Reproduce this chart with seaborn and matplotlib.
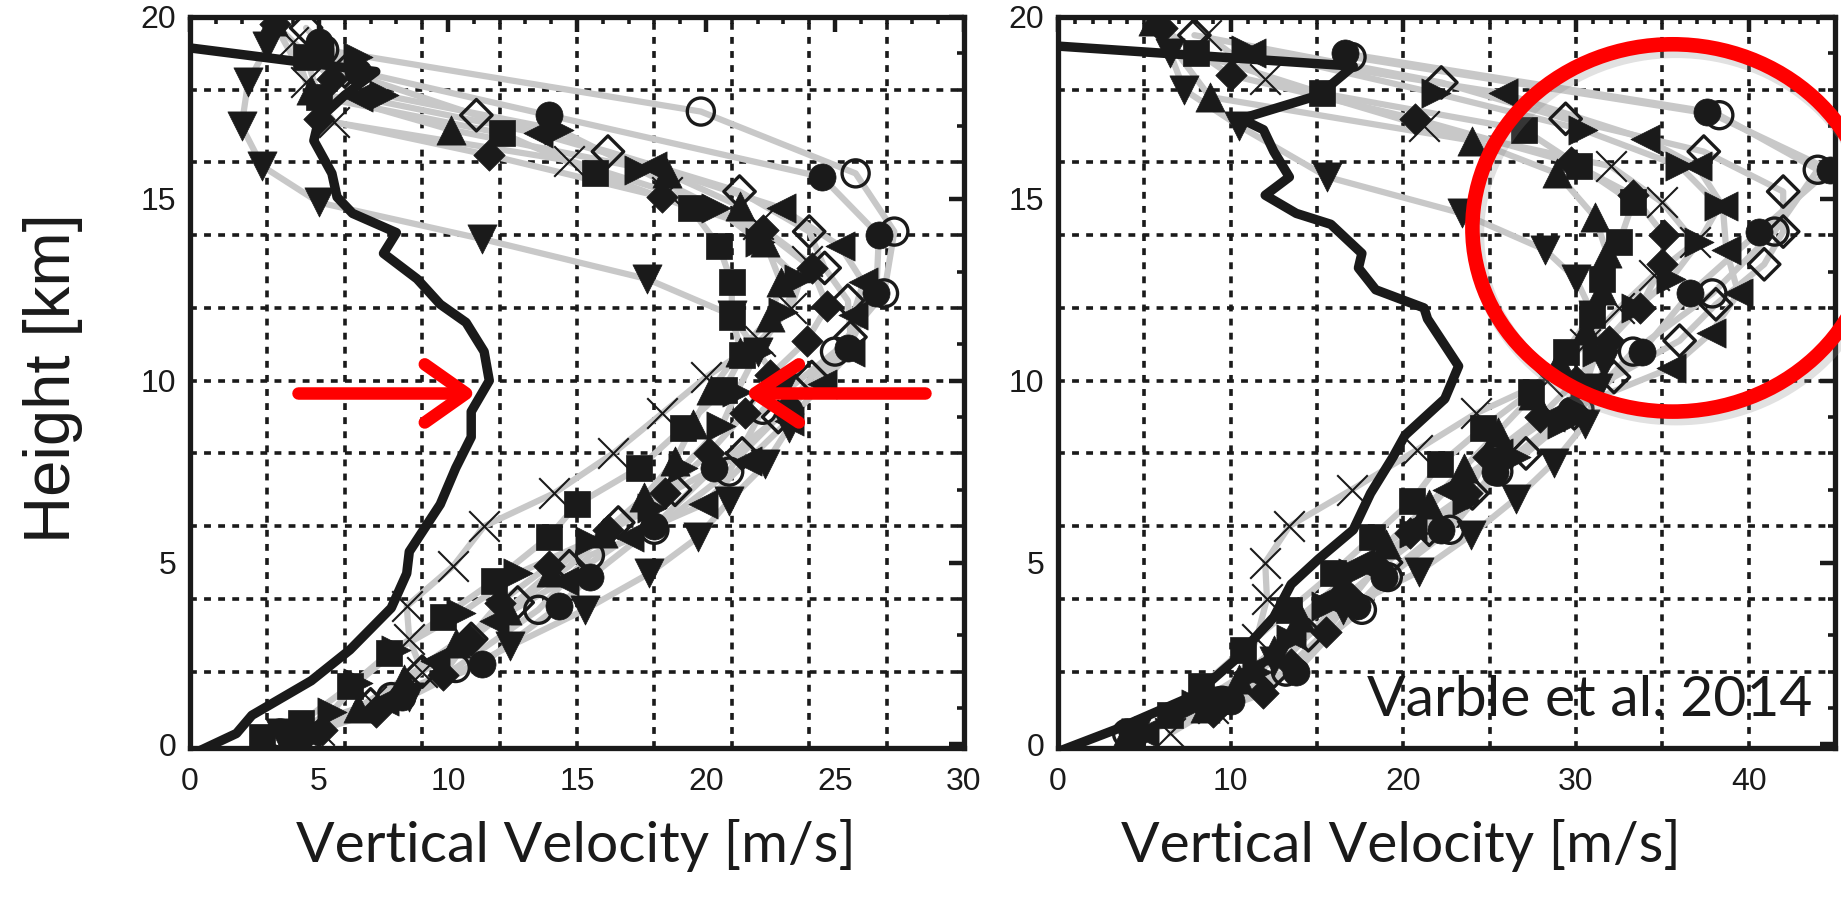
import numpy as np
import pandas as pd
import matplotlib
matplotlib.use("Agg")
import matplotlib.pyplot as plt
import seaborn as sns
from matplotlib.patches import Ellipse
from matplotlib.ticker import MultipleLocator

sns.set_theme(style="white", rc={"text.color": "black", "axes.labelcolor": "black",
                                 "xtick.color": "black", "ytick.color": "black",
                                 "axes.edgecolor": "black"})
plt.rcParams["font.family"] = ["Liberation Sans", "DejaVu Sans"]

# ---------------- data: left panel ----------------
L_OBS_W = [0, 1.8, 2.4, 4.7, 6.2, 7.8, 8.4, 8.5, 9.7, 10.3, 10.9, 10.9, 11.6, 11.4, 10.7, 9.7, 8.8, 7.5, 8.0, 6.3, 5.7, 5.5, 4.8, 5.0, 6.0, 7.2, 0.0]
L_OBS_Z = [-0.3, 0.3, 0.8, 1.75, 2.6, 3.75, 4.7, 5.3, 6.6, 7.6, 8.45, 9.15, 10.0, 10.8, 11.6, 12.1, 12.8, 13.5, 14.07, 14.6, 15.05, 15.7, 16.6, 17.2, 17.85, 18.5, 19.15]

L_TDOWN_Z = [0.3, 1.3, 2.7, 3.7, 4.7, 5.7, 6.7, 7.7, 8.7, 9.8, 10.8, 11.8, 12.8, 13.9, 14.9, 15.9, 17.0, 18.2, 19.2]
L_TDOWN_W = [3.5, 8.5, 12.4, 15.3, 17.8, 19.7, 20.9, 22.3, 23.2, 23.0, 22.0, 21.0, 17.7, 11.3, 5.0, 2.8, 2.0, 2.25, 3.0]
L_X_Z = [0.4, 1.2, 2.0, 2.9, 3.8, 4.9, 6.0, 6.9, 8.0, 9.1, 10.1, 11.1, 12.0, 13.3, 14.3, 15.2, 16.05, 17.1, 18.2, 19.3]
L_X_W = [5.0, 7.0, 9.0, 8.5, 8.4, 10.2, 11.4, 14.1, 16.4, 18.3, 20.0, 22.1, 23.3, 23.9, 22.0, 18.5, 14.7, 5.6, 4.5, 4.0]
L_SQ_Z = [0.2, 0.6, 1.6, 2.5, 3.5, 4.5, 5.7, 6.6, 7.6, 8.7, 9.75, 10.7, 11.75, 12.7, 13.7, 14.75, 15.7, 16.8, 17.8, 18.9]
L_SQ_W = [2.8, 4.3, 6.2, 7.7, 9.8, 11.8, 13.9, 15.0, 17.4, 19.1, 20.7, 21.4, 21.0, 21.0, 20.5, 19.4, 15.7, 12.1, 5.0, 4.5]
L_CIRC_Z = [0.3, 1.3, 2.2, 3.8, 4.6, 6.0, 7.6, 9.2, 10.9, 12.4, 14.0, 15.6, 17.3, 18.5, 19.3]
L_CIRC_W = [4.0, 8.2, 11.3, 14.3, 15.5, 18.0, 20.3, 23.2, 25.5, 26.6, 26.7, 24.5, 13.9, 6.5, 5.0]
L_OCIRC_Z = [0.3, 1.3, 2.1, 3.7, 5.2, 5.9, 7.5, 9.2, 10.8, 12.4, 14.1, 15.7, 17.4, 19.1]
L_OCIRC_W = [3.5, 7.8, 10.3, 13.5, 15.5, 18.0, 20.9, 22.2, 25.0, 26.9, 27.3, 25.8, 19.8, 5.2]
L_ODIAM_Z = [0.3, 1.1, 2.0, 2.9, 3.9, 4.9, 6.1, 7.0, 8.0, 9.0, 10.1, 11.2, 12.2, 13.1, 14.1, 15.2, 16.3, 17.3, 18.5, 19.7]
L_ODIAM_W = [4.5, 7.0, 9.0, 10.9, 12.7, 14.7, 16.6, 18.8, 21.4, 22.8, 24.1, 25.6, 25.5, 24.6, 24.0, 21.3, 16.2, 11.1, 6.0, 4.5]
L_DIAM_Z = [0.4, 0.9, 1.9, 2.9, 3.9, 4.9, 5.9, 6.9, 8.0, 9.1, 10.15, 11.1, 12.05, 13.1, 14.15, 15.05, 16.2, 17.2, 18.3, 19.8]
L_DIAM_W = [5.1, 7.2, 9.8, 10.8, 12.0, 13.9, 16.2, 18.4, 20.1, 21.5, 22.5, 23.9, 24.7, 24.1, 22.2, 18.3, 11.6, 5.0, 5.5, 3.3]
L_TUP_Z = [0.3, 1.0, 1.8, 2.8, 3.7, 4.75, 5.8, 6.8, 7.8, 8.8, 9.75, 10.8, 11.75, 12.7, 13.8, 14.8, 15.7, 16.9, 18.0, 19.9]
L_TUP_W = [4.2, 6.5, 8.3, 10.3, 12.3, 14.0, 16.0, 17.6, 18.8, 19.5, 20.2, 21.3, 22.5, 22.9, 22.3, 21.3, 18.5, 10.1, 4.7, 3.2]
L_TLEFT_Z = [0.3, 1.2, 2.3, 3.4, 4.5, 5.7, 6.6, 7.8, 8.9, 9.9, 10.8, 11.8, 12.7, 13.7, 14.75, 15.9, 16.8, 17.8, 19.0]
L_TLEFT_W = [4.5, 7.5, 9.5, 11.8, 14.5, 17.0, 19.9, 21.6, 23.2, 24.5, 25.6, 25.7, 26.1, 25.2, 22.9, 17.9, 13.5, 6.5, 5.0]
L_TRIGHT_Z = [0.3, 0.9, 1.7, 2.6, 3.6, 4.7, 5.6, 6.5, 7.6, 8.75, 9.7, 10.8, 11.9, 12.8, 13.8, 14.75, 15.8, 16.9, 17.85, 18.9]
L_TRIGHT_W = [4.0, 5.5, 6.5, 8.0, 10.5, 12.7, 15.5, 17.9, 19.1, 20.6, 21.2, 22.0, 23.0, 23.6, 22.1, 20.4, 17.4, 14.3, 7.5, 6.5]

# ---------------- data: right panel ----------------
R_OBS_W = [0, 3.3, 7.9, 10.2, 12.5, 13.5, 15.1, 17.1, 18.1, 19.4, 20.1, 22.4, 23.2, 21.4, 21.2, 18.4, 17.4, 17.6, 15.8, 13.8, 12.0, 13.4, 12.5, 11.9, 10.6, 15.1, 17.1, 0]
R_OBS_Z = [-0.2, 0.4, 1.35, 2.3, 3.5, 4.4, 5.1, 5.9, 6.9, 7.9, 8.5, 9.5, 10.4, 11.7, 12.0, 12.5, 13.1, 13.5, 14.3, 14.6, 15.1, 15.6, 16.3, 16.9, 17.2, 17.85, 18.65, 19.2]

R_TDOWN_Z = [0.3, 1.2, 2.3, 3.7, 4.75, 5.75, 6.75, 7.75, 8.8, 9.8, 10.45, 11.8, 12.8, 13.6, 14.6, 15.6, 17.0, 18.0, 19.0]
R_TDOWN_W = [4.5, 9.0, 12.5, 16.5, 20.9, 23.9, 26.5, 28.7, 30.5, 31.3, 31.6, 31.0, 30.0, 28.2, 23.4, 15.6, 10.5, 7.3, 6.5]
R_X_Z = [0.3, 1.0, 1.8, 2.9, 4.0, 5.0, 6.0, 7.0, 8.1, 9.1, 10.0, 11.0, 12.0, 12.9, 13.8, 14.9, 15.9, 17.0, 18.3, 19.5]
R_X_W = [6.5, 9.0, 10.5, 11.5, 12.1, 12.0, 13.4, 17.0, 20.8, 24.2, 28.3, 30.5, 32.5, 34.5, 36.9, 35.0, 32.0, 21.2, 12.0, 8.6]
R_SQ_Z = [0.1, 0.8, 1.6, 2.6, 3.7, 4.7, 5.7, 6.7, 7.7, 8.7, 9.7, 10.8, 11.8, 12.8, 13.8, 14.9, 15.9, 16.9, 17.9, 19.0]
R_SQ_W = [4.3, 6.5, 8.3, 10.7, 13.4, 15.9, 18.2, 20.5, 22.1, 24.6, 27.4, 29.4, 30.9, 31.5, 32.5, 33.3, 30.2, 27.0, 15.3, 8.0]
R_CIRC_Z = [0.3, 1.2, 2.0, 3.8, 4.6, 5.9, 7.5, 9.2, 10.8, 12.4, 14.1, 15.8, 17.4, 19.0]
R_CIRC_W = [4.5, 10.0, 13.8, 17.3, 18.9, 22.2, 25.3, 29.7, 33.8, 36.6, 40.6, 44.7, 37.6, 16.6]
R_OCIRC_Z = [0.3, 1.2, 2.0, 3.7, 4.6, 5.9, 7.5, 9.2, 10.8, 12.4, 14.1, 15.8, 17.3, 18.9]
R_OCIRC_W = [4.0, 9.5, 13.2, 17.6, 19.1, 22.7, 25.5, 30.2, 33.3, 37.9, 41.5, 44.0, 38.3, 17.0]
R_ODIAM_Z = [0.3, 1.1, 2.0, 3.0, 4.0, 5.0, 5.9, 6.9, 8.0, 9.1, 10.1, 11.1, 12.1, 13.2, 14.1, 15.2, 16.3, 17.2, 18.2, 19.5]
R_ODIAM_W = [4.5, 8.5, 12.5, 14.5, 16.5, 19.0, 21.5, 24.0, 27.1, 29.9, 32.2, 36.0, 38.1, 40.9, 42.0, 42.0, 37.4, 29.4, 22.2, 7.9]
R_DIAM_Z = [0.3, 0.9, 1.4, 2.2, 3.1, 4.0, 4.9, 5.8, 6.9, 7.9, 9.0, 10.0, 11.1, 12.0, 13.2, 14.0, 15.1, 16.0, 17.2, 18.4, 19.7]
R_DIAM_W = [4.5, 9.0, 11.9, 13.5, 15.5, 17.0, 18.5, 20.4, 23.7, 24.9, 27.9, 30.0, 31.9, 33.7, 35.0, 35.1, 33.3, 29.7, 20.7, 10.0, 6.0]
R_TUP_Z = [0.3, 1.0, 1.8, 2.6, 3.5, 4.5, 5.5, 6.6, 7.6, 8.6, 9.6, 10.5, 11.4, 12.5, 13.5, 14.5, 15.7, 16.6, 17.8, 19.9]
R_TUP_W = [4.0, 8.5, 10.5, 12.5, 14.0, 16.5, 19.0, 21.5, 23.5, 25.5, 27.5, 29.0, 30.6, 31.5, 31.8, 31.1, 28.9, 24.0, 8.8, 5.5]
R_TLEFT_Z = [0.3, 1.1, 2.0, 3.0, 4.0, 5.0, 6.0, 7.0, 8.0, 9.0, 10.35, 11.3, 12.4, 13.6, 14.8, 15.9, 16.65, 17.9, 19.0]
R_TLEFT_W = [5.0, 8.0, 11.0, 13.5, 15.5, 17.5, 20.5, 22.5, 25.5, 28.5, 35.5, 37.8, 39.4, 38.7, 38.5, 37.0, 34.0, 25.8, 11.2]
R_TRIGHT_Z = [0.3, 1.1, 2.0, 2.9, 3.8, 4.7, 5.8, 6.7, 7.9, 8.8, 9.8, 10.8, 12.0, 12.8, 13.8, 14.8, 15.9, 16.9, 17.9, 19.1]
R_TRIGHT_W = [4.5, 8.0, 11.5, 13.5, 15.5, 17.1, 20.6, 23.7, 26.5, 29.2, 30.5, 31.2, 33.5, 35.5, 37.1, 38.3, 36.0, 30.4, 21.9, 10.9]

X_TICKS_LEFT = [0, 5, 10, 15, 20, 25, 30]
X_TICKS_RIGHT = [0, 10, 20, 30, 40]
Y_TICKS = [0, 5, 10, 15, 20]

MODELS = ["tdown", "x", "square", "circle", "ocircle", "odiamond", "diamond", "tup", "tleft", "tright"]
LEFT = {"tdown": (L_TDOWN_W, L_TDOWN_Z), "x": (L_X_W, L_X_Z), "square": (L_SQ_W, L_SQ_Z),
        "circle": (L_CIRC_W, L_CIRC_Z), "ocircle": (L_OCIRC_W, L_OCIRC_Z), "odiamond": (L_ODIAM_W, L_ODIAM_Z),
        "diamond": (L_DIAM_W, L_DIAM_Z), "tup": (L_TUP_W, L_TUP_Z), "tleft": (L_TLEFT_W, L_TLEFT_Z),
        "tright": (L_TRIGHT_W, L_TRIGHT_Z)}
RIGHT = {"tdown": (R_TDOWN_W, R_TDOWN_Z), "x": (R_X_W, R_X_Z), "square": (R_SQ_W, R_SQ_Z),
         "circle": (R_CIRC_W, R_CIRC_Z), "ocircle": (R_OCIRC_W, R_OCIRC_Z), "odiamond": (R_ODIAM_W, R_ODIAM_Z),
         "diamond": (R_DIAM_W, R_DIAM_Z), "tup": (R_TUP_W, R_TUP_Z), "tleft": (R_TLEFT_W, R_TLEFT_Z),
         "tright": (R_TRIGHT_W, R_TRIGHT_Z)}

# marker style: (marker, filled, size in points)
STYLE = {"tdown": ("v", True, 21), "x": ("x", False, 22), "square": ("s", True, 19),
         "circle": ("o", True, 19.5), "ocircle": ("o", False, 19.5), "odiamond": ("D", False, 16),
         "diamond": ("D", True, 16), "tup": ("^", True, 21), "tleft": ("<", True, 21),
         "tright": (">", True, 21)}

GRAY = "#c8c8c8"
RED = "#ff0000"


def build_df(panel):
    rows = []
    for m in MODELS:
        w, z = panel[m]
        for i, (wi, zi) in enumerate(zip(w, z)):
            rows.append({"model": m, "w": wi, "z": zi, "order": i})
    return pd.DataFrame(rows)


def draw_panel(ax, panel, obs_w, obs_z, xmax, grid_x, xticks):
    df = build_df(panel)
    for gx in grid_x:
        ax.axvline(gx, color="k", lw=2.6, ls=(0, (1.9, 2.0)), zorder=0.5)
    for gy in np.arange(2, 20, 2):
        ax.axhline(gy, color="k", lw=2.6, ls=(0, (1.9, 2.0)), zorder=0.5)
    sns.lineplot(data=df, x="w", y="z", units="model", estimator=None, sort=False,
                 color=GRAY, lw=4.5, ax=ax, legend=False, zorder=2)
    sns.lineplot(x=obs_w, y=obs_z, estimator=None, sort=False, color="k", lw=6.8,
                 ax=ax, legend=False, zorder=3)
    for m in MODELS:
        mk, filled, size = STYLE[m]
        sub = df[df.model == m]
        if mk == "x":
            sns.scatterplot(data=sub, x="w", y="z", marker="x", s=size ** 2, color="k",
                            linewidth=1.5, ax=ax, legend=False, zorder=4)
        elif filled:
            sns.scatterplot(data=sub, x="w", y="z", marker=mk, s=size ** 2, color="k",
                            edgecolor="k", linewidth=0.5, ax=ax, legend=False, zorder=4)
        else:
            sns.scatterplot(data=sub, x="w", y="z", marker=mk, s=size ** 2, facecolor="none",
                            edgecolor="k", linewidth=2.4, ax=ax, legend=False, zorder=4)
    ax.set_xlim(0, xmax)
    ax.set_ylim(-0.1, 20)
    ax.set_xticks(xticks)
    ax.set_yticks(Y_TICKS)
    ax.xaxis.set_minor_locator(MultipleLocator(1))
    ax.yaxis.set_minor_locator(MultipleLocator(1))
    ax.tick_params(which="major", direction="in", length=11, width=3.2, top=True, right=True,
                   labelsize=23, colors="k")
    ax.tick_params(which="minor", direction="in", length=5, width=2.6, top=True, right=True,
                   colors="k")
    ax.tick_params(axis="x", which="major", pad=14)
    ax.tick_params(axis="y", which="major", pad=10)
    for s in ax.spines.values():
        s.set_linewidth(3.8)
        s.set_color("k")
        s.set_zorder(6)
    ax.set_xlabel("")
    ax.set_ylabel("")
    ax.set_facecolor("white")


fig = plt.figure(figsize=(18.41, 8.98), dpi=100)
H = 898.0
W = 1841.0
bottom = 1 - 748 / H
height = (748 - 17) / H
ax1 = fig.add_axes([190 / W, bottom, 774 / W, height])
ax2 = fig.add_axes([1058 / W, bottom, 777 / W, height])

draw_panel(ax1, LEFT, L_OBS_W, L_OBS_Z, 30, np.arange(3, 30, 3), X_TICKS_LEFT)
draw_panel(ax2, RIGHT, R_OBS_W, R_OBS_Z, 45, np.arange(5, 45, 5), X_TICKS_RIGHT)

# red arrows (left panel)
arrow_kw = dict(color=RED, lw=9, solid_capstyle="round", zorder=7, clip_on=False)
ax1.plot([4.2, 10.6], [9.65, 9.65], **arrow_kw)
ax1.plot([9.1, 10.7, 9.1], [10.45, 9.65, 8.85], solid_joinstyle="round", **arrow_kw)
ax1.plot([28.5, 22.0], [9.65, 9.65], **arrow_kw)
ax1.plot([23.6, 21.9, 23.6], [10.45, 9.65, 8.85], solid_joinstyle="round", **arrow_kw)

# red ellipse (right panel)
shadow = Ellipse((35.8, 14.05), 23.2, 10.1, fill=False, ec="#888888", lw=12, alpha=0.25,
                 zorder=6.5, clip_on=False)
ax2.add_patch(shadow)
ell = Ellipse((35.6, 14.2), 23.2, 10.1, fill=False, ec=RED, lw=10.5, zorder=7, clip_on=False)
ax2.add_patch(ell)

# labels
fig.text(53 / W, 1 - 378 / H, "Height [km]", rotation=90, ha="center", va="center",
         fontsize=47, color="k", family=["Liberation Sans", "DejaVu Sans"])
fig.text(576 / W, 1 - 845 / H, "Vertical Velocity [m/s]", ha="center", va="center",
         fontsize=41, color="k", family=["Lato", "DejaVu Sans"])
fig.text(1401 / W, 1 - 845 / H, "Vertical Velocity [m/s]", ha="center", va="center",
         fontsize=41, color="k", family=["Lato", "DejaVu Sans"])
ax2.text(1590 / W, 1 - 701 / H, "Varble et al. 2014", transform=fig.transFigure,
         ha="center", va="center", fontsize=41, color="k", family=["Lato", "DejaVu Sans"],
         zorder=8)

fig.savefig("out.png", dpi=100, facecolor="white")
